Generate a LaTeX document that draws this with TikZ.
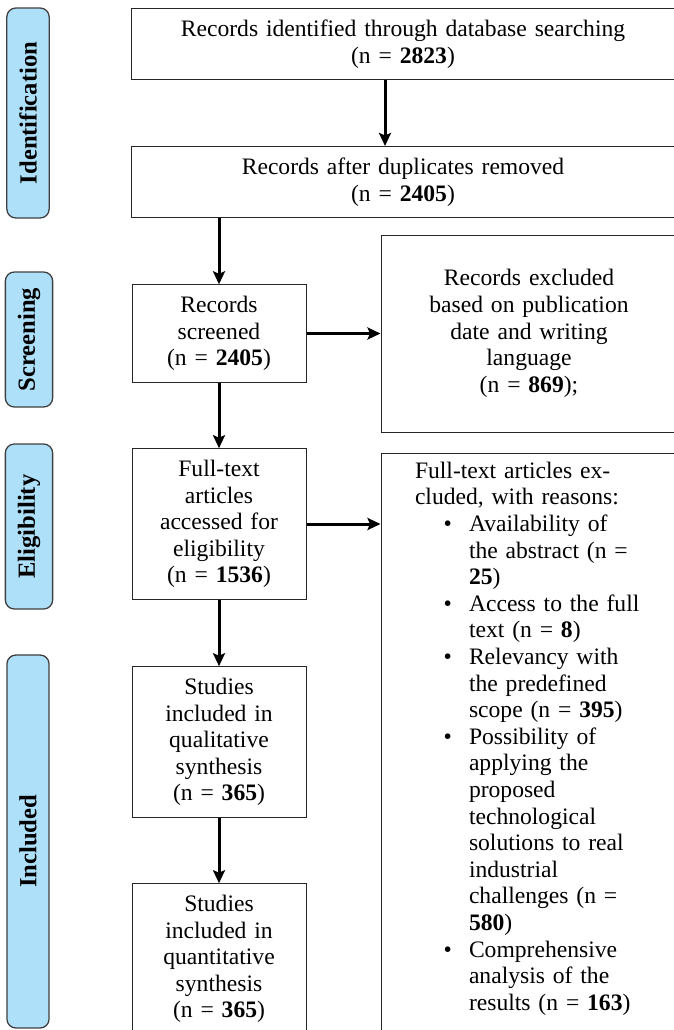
\documentclass[tikz,border=0pt]{standalone}
\usepackage{fontspec}
\setmainfont{Liberation Serif}
\usepackage{enumitem}
\usetikzlibrary{positioning,arrows.meta}
\definecolor{phasefill}{HTML}{AEE0F9}
\tikzstyle{rec}=[draw=black!85, line width=1pt, text width=140pt, inner xsep=17pt, inner ysep=11.4pt, align=center]
\tikzstyle{wide}=[rec, text width=510pt]
\tikzstyle{side}=[draw=black!85, line width=1pt, minimum width=296pt, inner xsep=34pt, inner ysep=11.4pt]
\tikzstyle{phase}=[draw=black!75, line width=1.3pt, fill=phasefill, rounded corners=9pt, rotate=90, inner xsep=4pt, inner ysep=12.4pt, font=\fontsize{24.6}{27}\selectfont\bfseries]
\tikzstyle{flow}=[->, line width=3pt]

\begin{document}
\begin{tikzpicture}[x=1pt, y=1pt, node distance=200pt, >={Stealth[length=13pt,width=12pt,inset=2.5pt]}, font=\fontsize{23.6}{26.6}\selectfont]
	\useasboundingbox (0,0) rectangle (673,-1030);
	% stages
	\node[phase, minimum width=210pt] (sIdent) at (28,-113) {Identification};
	\node[phase, minimum width=135pt] (sScreen) at (29,-339.5) {Screening};
	\node[phase, minimum width=165pt] (sElig) at (29,-526.5) {Eligibility};
	\node[phase, minimum width=373pt] (sIncl) at (28,-841.5) {Included};
	% flow
	\node[wide] (ident) at (403,-44) {Records identified through database searching\\(n = \textbf{2823})};
	\node[wide, node distance=138pt, below of=ident] (dup) {Records after duplicates removed\\(n = \textbf{2405})};
	\node[rec] (screen) at (219,-333.5) {Records screened (n = \textbf{2405})};
	\node[rec, node distance=190.5pt, below of=screen] (full) {Full-text articles accessed for eligibility (n = \textbf{1536})};
	\node[rec, node distance=218pt, below of=full] (qual) {Studies included in qualitative synthesis (n = \textbf{365})};
	\node[rec, node distance=217pt, below of=qual] (quant) {Studies included in quantitative synthesis (n = \textbf{365})};
	\node[side, text width=228pt, align=center, minimum height=197pt, node distance=310pt, right of=screen] (excl) {Records excluded\\based on publication\\date and writing\\language\\(n = \textbf{869});};
	\node[side, text width=228pt, align=left, inner ysep=9pt, below=20pt of excl] (reasons) {Full-text articles ex-\\cluded, with reasons:
		\begin{itemize}[nosep, leftmargin=54pt, rightmargin=0pt, labelsep=17pt]
			\item Availability of the abstract (n = \textbf{25})
			\item Access to the full text (n = \textbf{8})
			\item Relevancy with the predefined scope (n = \textbf{395})
			\item Possibility of applying the proposed technological solutions to real industrial challenges (n = \textbf{580})
			\item Comprehensive analysis of the results (n = \textbf{163})
		\end{itemize}\par\mbox{}};
	\draw[flow] ([xshift=-18pt]ident.south) -- ([xshift=-18pt]dup.north);
	\draw[flow] (screen.north |- dup.south) -- (screen.north);
	\draw[flow] (screen.east) -- (excl.west);
	\draw[flow] (screen.south) -- (full.north);
	\draw[flow] (full.east) -- (full.east -| reasons.west);
	\draw[flow] (full.south) -- (qual.north);
	\draw[flow] (qual.south) -- (quant.north);
\end{tikzpicture}
\end{document}
